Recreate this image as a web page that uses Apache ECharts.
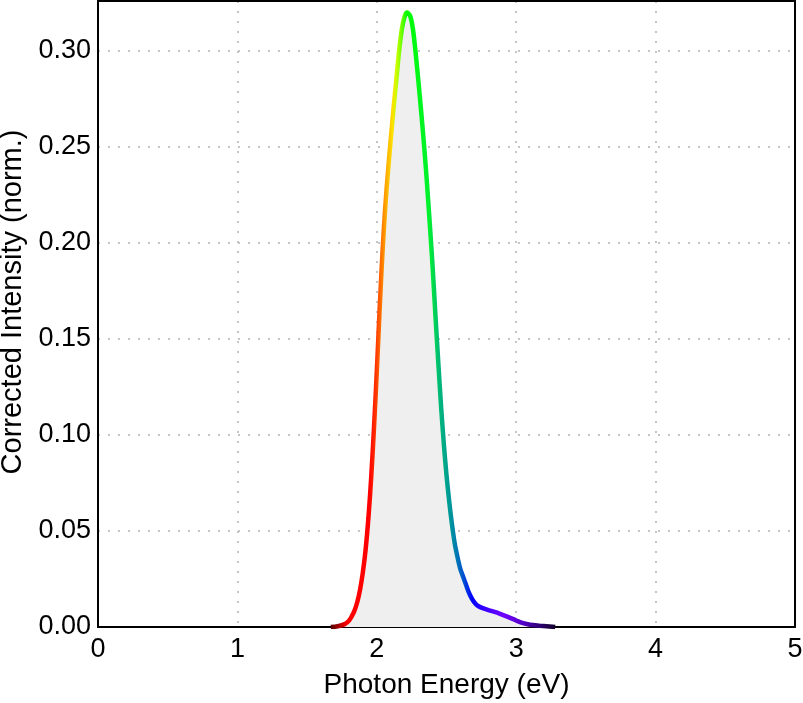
<!DOCTYPE html>
<html>
<head>
<meta charset="utf-8">
<script src="https://cdn.jsdelivr.net/npm/echarts@6/dist/echarts.min.js"></script>
<style>html,body{margin:0;padding:0;background:#fff;}#chart{width:803px;height:703px;}</style>
</head>
<body>
<div id="chart"></div>
<script>
// Photon energy (eV)
var energy = [1.67, 1.72, 1.77, 1.80, 1.82, 1.84, 1.86, 1.88, 1.90, 1.92, 1.94, 1.96, 1.98, 2.00, 2.02, 2.04, 2.06, 2.08, 2.10, 2.12, 2.14, 2.16, 2.18, 2.20, 2.217,
  2.24, 2.26, 2.28, 2.30, 2.32, 2.34, 2.36, 2.38, 2.40, 2.42, 2.44, 2.46, 2.48, 2.50, 2.52, 2.54, 2.56, 2.58, 2.60, 2.62, 2.64, 2.66, 2.68, 2.70, 2.72,
  2.76, 2.82, 2.88, 2.94, 3.00, 3.05, 3.10, 3.17, 3.28];
// Corrected intensity (normalised)
var intensity = [0.0000, 0.0004, 0.0015, 0.0032, 0.0055, 0.0085, 0.0130, 0.0195, 0.0285, 0.0405, 0.0570, 0.0780, 0.1040, 0.1330, 0.1650, 0.1940, 0.2180, 0.2370, 0.2540, 0.2700, 0.2850, 0.3000, 0.3115, 0.3180, 0.3200,
  0.3180, 0.3110, 0.2980, 0.2830, 0.2670, 0.2500, 0.2310, 0.2100, 0.1880, 0.1630, 0.1390, 0.1160, 0.0960, 0.0790, 0.0650, 0.0530, 0.0430, 0.0360, 0.0300, 0.0260, 0.0220, 0.0180, 0.0150, 0.0128, 0.0113,
  0.0098, 0.0084, 0.0070, 0.0053, 0.0034, 0.0020, 0.0012, 0.0007, 0.0000];
// Line colour stops (energy -> spectral colour)
var colorEnergy = [1.67, 1.74, 1.80, 1.96, 2.00, 2.04, 2.08, 2.12, 2.15, 2.19, 2.22, 2.38, 2.45, 2.54, 2.62, 2.68, 2.75, 2.90, 3.05, 3.20, 3.28];
var colorValue = ['#400000', '#a00000', '#ff0000', '#ff0000', '#ff3000', '#ff7000', '#ffb000', '#ffe000', '#c8ff00', '#60ff00', '#00ff00', '#00f030', '#00b878', '#0090a0', '#0050d0', '#0000ff', '#3000ff', '#7000ff', '#5000c0', '#200050', '#100020'];

var xTicks = [0, 1, 2, 3, 4, 5];
var yTicks = [0, 0.05, 0.10, 0.15, 0.20, 0.25, 0.30];

var data = energy.map(function (e, i) { return [e, intensity[i]]; });
var eMin = Math.min.apply(null, energy), eMax = Math.max.apply(null, energy);
var stops = colorEnergy.map(function (e, i) {
  return { offset: Math.max(0, Math.min(1, (e - eMin) / (eMax - eMin))), color: colorValue[i] };
});

var chart = echarts.init(document.getElementById('chart'), null, { renderer: 'canvas' });
var font = 'Liberation Sans, Arial, sans-serif';
var grid = { color: '#c4c4c4', width: 2, type: [2, 8] };
chart.setOption({
  animation: false,
  backgroundColor: '#ffffff',
  grid: { left: 98, right: 8, top: 1, bottom: 76, show: false, outerBoundsMode: 'none', containLabel: false },
  xAxis: [{
    type: 'value', min: xTicks[0], max: xTicks[xTicks.length - 1], interval: 1,
    name: 'Photon Energy (eV)', nameLocation: 'middle', nameGap: 44,
    nameTextStyle: { fontFamily: font, fontSize: 28, color: '#000' },
    axisLine: { show: true, lineStyle: { color: '#000', width: 2 } },
    axisTick: { show: false },
    axisLabel: { fontFamily: font, fontSize: 27, color: '#000', margin: 9 },
    splitLine: { show: true, lineStyle: grid }
  }, {
    type: 'value', position: 'top', min: xTicks[0], max: xTicks[xTicks.length - 1], interval: 1, z: 10,
    axisLine: { show: true, onZero: false, lineStyle: { color: '#000', width: 2 } },
    axisTick: { show: false }, axisLabel: { show: false }, splitLine: { show: false }
  }],
  yAxis: [{
    type: 'value', min: yTicks[0], max: 0.326, interval: 0.05,
    name: 'Corrected Intensity (norm.)', nameLocation: 'middle', nameGap: 63,
    nameTextStyle: { fontFamily: font, fontSize: 29, color: '#000', padding: [0, 0, 0, 24] },
    axisLine: { show: true, lineStyle: { color: '#000', width: 2 } },
    axisTick: { show: false },
    axisLabel: {
      fontFamily: font, fontSize: 27, color: '#000', margin: 7, showMaxLabel: false,
      formatter: function (v) { return v.toFixed(2); }
    },
    splitLine: { show: true, lineStyle: grid }
  }, {
    type: 'value', position: 'right', min: yTicks[0], max: 0.326, z: 10,
    axisLine: { show: true, onZero: false, lineStyle: { color: '#000', width: 2 } },
    axisTick: { show: false }, axisLabel: { show: false }, splitLine: { show: false }
  }],
  series: [{
    type: 'line', data: data, smooth: 0.3, symbol: 'none', z: 3,
    lineStyle: { width: 4.5, color: new echarts.graphic.LinearGradient(0, 0, 1, 0, stops) },
    areaStyle: { color: '#efefef', opacity: 1 }
  }]
});
</script>
</body>
</html>
